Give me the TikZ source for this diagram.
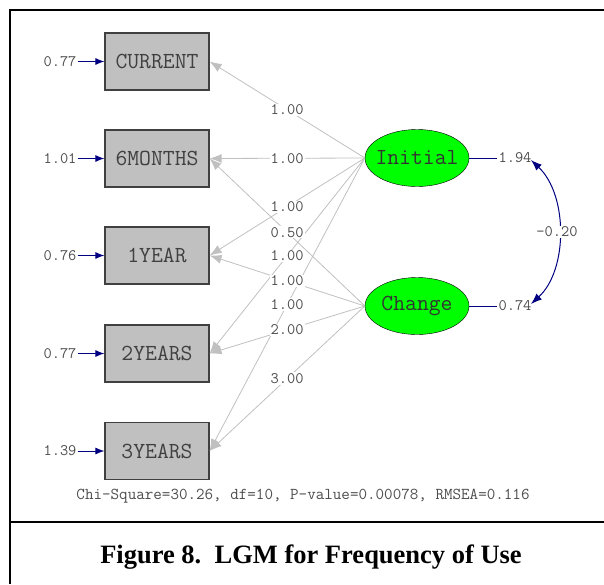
\documentclass[tikz,border=0pt]{standalone}
\usepackage{fontspec}
\setmainfont{Liberation Serif}
\usetikzlibrary{arrows.meta,shapes.geometric,positioning}
\definecolor{lisgray}{RGB}{192,192,192}
\definecolor{lisgreen}{RGB}{0,255,0}
\definecolor{lisblue}{RGB}{0,0,128}

\begin{document}
\begin{tikzpicture}[x=1pt,y=-1pt]
\tikzstyle{obs}=[draw=black!75, line width=1.2pt, fill=lisgray, minimum width=104pt, minimum height=57pt, font=\fontsize{23}{23}\selectfont\ttfamily, text=black!75]
\tikzstyle{lat}=[ellipse, draw=black, fill=lisgreen, minimum width=104pt, minimum height=57pt, inner sep=0pt, font=\fontsize{23}{23}\selectfont\ttfamily, text=black!80]
\tikzstyle{num}=[font=\fontsize{16}{16}\selectfont\ttfamily, text=black!70, fill=white, inner sep=1pt]
\tikzstyle{load}=[draw=lisgray, line width=0.8pt, -{Latex[length=12pt,width=9pt]}]
\tikzstyle{err}=[draw=lisblue, line width=1pt, -{Latex[length=9pt,width=7pt]}]
\useasboundingbox (0,0) rectangle (604,584);
\draw[line width=2.5pt] (604,10) -- (10,10) -- (10,584);
\draw[line width=2.5pt] (10,522) -- (604,522);
\foreach \i/\name/\y/\err in {1/CURRENT/61.5/0.77, 2/6MONTHS/158.5/1.01, 3/1YEAR/255.5/0.76, 4/2YEARS/353.5/0.77, 5/3YEARS/451/1.39}
    {
    \node[obs] (x\i) at (157,\y) {\name};
    \node[num, fill=none] (e\i) at (60,\y) {\err};
    \draw[err] (e\i) -- (x\i);
    }
\node[lat] (init) at (417,158) {\makebox[0pt]{Initial}};
\node[lat] (chg) at (417,306) {\makebox[0pt]{Change}};
\foreach \i in {1,...,5}
    \draw[load] (init.west) -- (x\i.east);
\foreach \i in {2,...,5}
    \draw[load] (chg.west) -- (x\i.east);
% loadings on top of the lines
\foreach \i in {1,...,5}
    \path (init.west) -- node[num]{1.00} (x\i.east);
\foreach \i/\w in {2/0.50,3/1.00,4/2.00,5/3.00}
    \path (chg.west) -- node[num]{\w} (x\i.east);
\node[num, fill=none] (v1) at (515,158) {1.94};
\node[num, fill=none] (v2) at (515,306) {0.74};
\draw[lisblue, line width=1pt] (init.east) -- (v1.west);
\draw[lisblue, line width=1pt] (chg.east) -- (v2.west);
\coordinate (c1) at (531,160);
\coordinate (c2) at (531,304);
\draw[lisblue, line width=1pt, {Latex[length=11pt,width=8pt]}-{Latex[length=11pt,width=8pt]}] (c1) .. controls (568,195) and (568,270) .. (c2);
\node[num] (cov) at (557,232) {-0.20};
\node[num, fill=none, font=\fontsize{16.6}{16.6}\selectfont\ttfamily] (fit) at (303,496) {Chi-Square=30.26, df=10, P-value=0.00078, RMSEA=0.116};
\node[font=\fontsize{26.5}{26.5}\selectfont\bfseries] (cap) at (311,557) {Figure 8.\ \ LGM for Frequency of Use};
\end{tikzpicture}
\end{document}
